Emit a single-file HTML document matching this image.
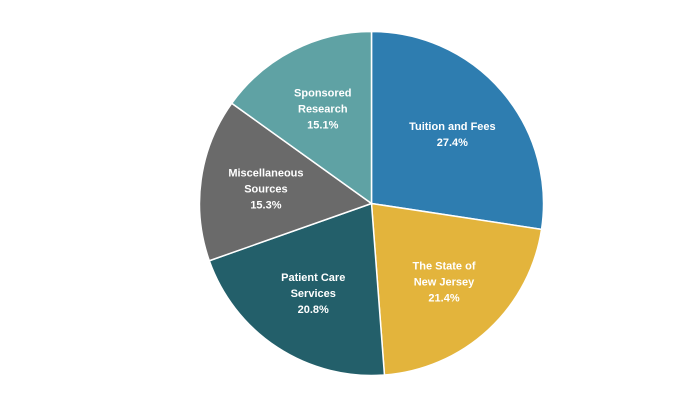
<!DOCTYPE html>
<html><head><meta charset="utf-8"><style>
html,body{margin:0;padding:0;background:#fff;}
svg{display:block;}
text{font-family:"Liberation Sans",sans-serif;font-weight:bold;font-size:11px;fill:#fff;text-anchor:middle;}
</style></head><body>
<svg id="chart" width="700" height="407" viewBox="0 0 700 407"></svg>
<script>
const categories = [["Tuition and Fees"],["The State of","New Jersey"],["Patient Care","Services"],["Miscellaneous","Sources"],["Sponsored","Research"]];
const values = [27.4, 21.4, 20.8, 15.3, 15.1];
const valueLabels = ["27.4%","21.4%","20.8%","15.3%","15.1%"];
const colors = ["#2e7db0","#e3b43c","#235f6a","#6a6a6a","#5fa2a4"];
const slugs = ["tuition-and-fees","state-of-new-jersey","patient-care-services","miscellaneous-sources","sponsored-research"];
const svg = document.getElementById('chart');
const NS = "http://www.w3.org/2000/svg";
const cx = 371.5, cy = 203.5, R = 172;
const total = values.reduce((a,b)=>a+b,0);
function pt(a, r){ return [cx + r*Math.sin(a), cy - r*Math.cos(a)]; }
let acc = 0;
values.forEach((v,i)=>{
  const a0 = acc/total*2*Math.PI; acc += v;
  const a1 = acc/total*2*Math.PI;
  const p0 = pt(a0,R), p1 = pt(a1,R);
  const large = (a1-a0) > Math.PI ? 1 : 0;
  const path = document.createElementNS(NS,'path');
  path.setAttribute('d',`M${cx},${cy}L${p0[0]},${p0[1]}A${R},${R} 0 ${large} 1 ${p1[0]},${p1[1]}Z`);
  path.setAttribute('fill',colors[i]);
  path.setAttribute('stroke','#fff');
  path.setAttribute('stroke-width','1.5');
  
  
  svg.appendChild(path);
  const am = (a0+a1)/2;
  const lp = pt(am, R*0.62);
  const lines = categories[i].concat([valueLabels[i]]);
  const t = document.createElementNS(NS,'text');
  
  
  const startY = lp[1] - (lines.length-1)*16/2 + 4;
  lines.forEach((s,j)=>{
    const ts = document.createElementNS(NS,'tspan');
    ts.setAttribute('x', lp[0]);
    ts.setAttribute('y', startY + j*16);
    ts.textContent = s;
    t.appendChild(ts);
  });
  svg.appendChild(t);
});
</script>
</body></html>
